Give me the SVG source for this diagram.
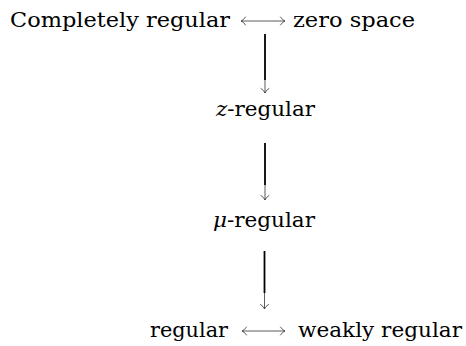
<svg xmlns="http://www.w3.org/2000/svg" width="466" height="346" viewBox="0 0 466 346">
<style>
.lbl{font-family:"DejaVu Serif",serif;font-size:21px;fill:#000}
.it{font-style:italic}
.thick{stroke:#000;stroke-width:1.8;fill:none}
.thin{stroke:#333;stroke-width:0.8;fill:none}
.head{stroke:#333;stroke-width:0.8;fill:none;stroke-linecap:round}
</style>
<rect width="466" height="346" fill="#fff"/>
<g id="completely-regular"><text class="lbl" x="10" y="27" textLength="220" lengthAdjust="spacingAndGlyphs">Completely regular</text></g>
<g id="zero-space"><text class="lbl" x="293" y="27" textLength="122" lengthAdjust="spacingAndGlyphs">zero space</text></g>
<g id="z-regular"><text class="lbl" x="216" y="116" textLength="99" lengthAdjust="spacingAndGlyphs"><tspan class="it">z</tspan>-regular</text></g>
<g id="mu-regular"><text class="lbl" x="213" y="227" textLength="102" lengthAdjust="spacingAndGlyphs"><tspan class="it">μ</tspan>-regular</text></g>
<g id="regular"><text class="lbl" x="150" y="337" textLength="78" lengthAdjust="spacingAndGlyphs">regular</text></g>
<g id="weakly-regular"><text class="lbl" x="298" y="337" textLength="164" lengthAdjust="spacingAndGlyphs">weakly regular</text></g>
<g id="connectors">
<line class="thin" x1="241" y1="21" x2="285" y2="21"/>
<path class="head" d="M245.5 17 Q243.5 20.2 241 21 Q243.5 21.8 245.5 25"/>
<path class="head" d="M280.5 17 Q282.5 20.2 285 21 Q282.5 21.8 280.5 25"/>
<line class="thick" x1="265" y1="34" x2="265" y2="80"/>
<line class="thin" x1="265" y1="80" x2="265" y2="93"/>
<path class="head" d="M261 88.5 Q264.2 90.5 265 93 Q265.8 90.5 269 88.5"/>
<line class="thick" x1="265" y1="143" x2="265" y2="185"/>
<line class="thin" x1="265" y1="185" x2="265" y2="200"/>
<path class="head" d="M261 195.5 Q264.2 197.5 265 200 Q265.8 197.5 269 195.5"/>
<line class="thick" x1="264.5" y1="251" x2="264.5" y2="293"/>
<line class="thin" x1="264.5" y1="293" x2="264.5" y2="309"/>
<path class="head" d="M260.5 304.5 Q263.7 306.5 264.5 309 Q265.3 306.5 268.5 304.5"/>
<line class="thin" x1="242" y1="331" x2="285" y2="331"/>
<path class="head" d="M246.5 327 Q244.5 330.2 242 331 Q244.5 331.8 246.5 335"/>
<path class="head" d="M280.5 327 Q282.5 330.2 285 331 Q282.5 331.8 280.5 335"/>
</g>
</svg>
